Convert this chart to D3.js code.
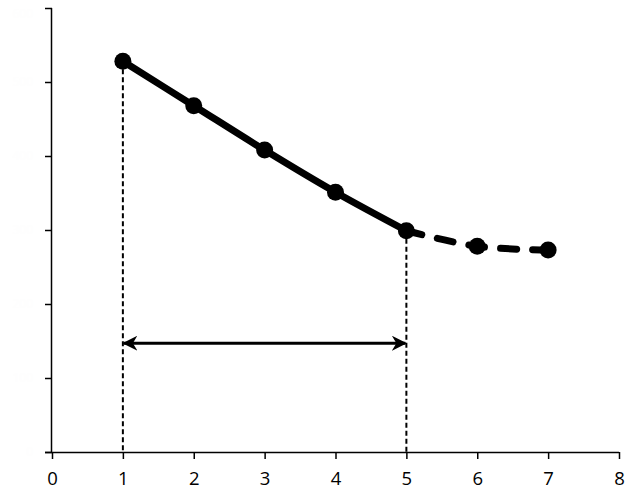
<!DOCTYPE html>
<html><head><meta charset="utf-8">
<script src="https://cdn.jsdelivr.net/npm/d3@7"></script>
<style>html,body{margin:0;padding:0;background:#fff;}svg{display:block;}</style>
</head><body>
<svg id="c" width="629" height="489"></svg>
<script>
const xValues = [1, 2, 3, 4, 5, 6, 7];
const yValues = [528, 468, 408, 351, 299, 278, 273];
const solidCount = 5; // points 1..5 drawn solid, 5..7 dashed
const xTicks = [0, 1, 2, 3, 4, 5, 6, 7, 8];
const yTicks = [0, 100, 200, 300, 400, 500, 600];
const spanStart = 1, spanEnd = 5, spanLevel = 147;

const svg = d3.select("#c");
const m = {left: 52, right: 10, top: 8, bottom: 37};
const W = 629, H = 489;
const x = d3.scaleLinear().domain([0, 8]).range([m.left, W - m.right]);
const y = d3.scaleLinear().domain([0, 600]).range([H - m.bottom, m.top]);

const font = "'Open Sans', 'Noto Sans', sans-serif";

// x axis
const gx = svg.append("g").attr("transform", `translate(0,${y(0)})`)
  .call(d3.axisBottom(x).tickValues(xTicks).tickSize(7).tickPadding(13).tickFormat(d3.format("d")));
gx.select(".domain").attr("d", `M${m.left - 7},0.5H${x(8)}`).attr("stroke", "#000").attr("stroke-width", 1.5);
gx.selectAll(".tick line").attr("stroke", "#000").attr("stroke-width", 1.5);
gx.selectAll(".tick text").attr("font-family", font).attr("font-size", 18.5).attr("fill", "#000");

// y axis (labels white, as in the reference)
const gy = svg.append("g").attr("transform", `translate(${x(0)},0)`)
  .call(d3.axisLeft(y).tickValues(yTicks).tickSize(7).tickPadding(12));
gy.select(".domain").attr("d", `M-0.5,${y(600)}V${y(0)}`).attr("stroke", "#000").attr("stroke-width", 1.5);
gy.selectAll(".tick line").attr("stroke", "#000").attr("stroke-width", 1.5);
gy.selectAll(".tick text").attr("font-family", font).attr("font-size", 12).attr("fill", "#fefefe")
  .attr("dy", d => d === 600 ? "0.75em" : "0.32em");

const pts = xValues.map((v, i) => [v, yValues[i]]);

// dashed vertical guides
[0, solidCount - 1].forEach(i => {
  svg.append("line")
    .attr("x1", x(pts[i][0])).attr("x2", x(pts[i][0]))
    .attr("y1", y(pts[i][1])).attr("y2", y(0))
    .attr("stroke", "#000").attr("stroke-width", 2).attr("stroke-dasharray", "5,3");
});

// line
const line = d3.line().x(d => x(d[0])).y(d => y(d[1])).curve(d3.curveCatmullRom.alpha(0.5));
svg.append("path").datum(pts.slice(0, solidCount)).attr("d", line)
  .attr("fill", "none").attr("stroke", "#000").attr("stroke-width", 7).attr("stroke-linecap", "round");
svg.append("path").datum(pts.slice(solidCount - 1)).attr("d", line)
  .attr("fill", "none").attr("stroke", "#000").attr("stroke-width", 7)
  .attr("stroke-linecap", "round").attr("stroke-dasharray", "16,16");

// markers
svg.selectAll("circle.pt").data(pts).enter().append("circle").attr("class", "pt")
  .attr("cx", d => x(d[0])).attr("cy", d => y(d[1])).attr("r", 8.5).attr("fill", "#000");

// double arrow
const defs = svg.append("defs");
["s", "e"].forEach(k => {
  defs.append("marker").attr("id", "arr" + k)
    .attr("viewBox", "0 0 10 10").attr("refX", 9).attr("refY", 5)
    .attr("markerWidth", 5).attr("markerHeight", 5)
    .attr("markerUnits", "strokeWidth")
    .attr("orient", k === "s" ? "auto-start-reverse" : "auto")
    .append("path").attr("d", "M0,0 L10,5 L0,10 L3,5 Z").attr("fill", "#000");
});
svg.append("line")
  .attr("x1", x(spanStart) + 1).attr("x2", x(spanEnd) - 1)
  .attr("y1", y(spanLevel)).attr("y2", y(spanLevel))
  .attr("stroke", "#000").attr("stroke-width", 3)
  .attr("marker-start", "url(#arrs)").attr("marker-end", "url(#arre)");
</script>
</body></html>
